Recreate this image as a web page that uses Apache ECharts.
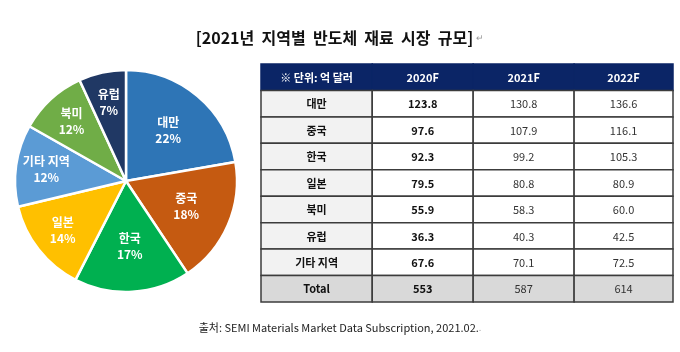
<!DOCTYPE html>
<html><head><meta charset="utf-8">
<script src="https://cdn.jsdelivr.net/npm/echarts@6/dist/echarts.min.js"></script>
<style>html,body{margin:0;padding:0;background:#fff}#c{width:680px;height:352px}</style>
</head><body><div id="c"></div>
<script>
// ---- data ----
const headers = ['※ 단위: 억 달러', '2020F', '2021F', '2022F'];
const regions = ['대만', '중국', '한국', '일본', '북미', '유럽', '기타 지역'];
const v2020 = [123.8, 97.6, 92.3, 79.5, 55.9, 36.3, 67.6];
const v2021 = [130.8, 107.9, 99.2, 80.8, 58.3, 40.3, 70.1];
const v2022 = [136.6, 116.1, 105.3, 80.9, 60.0, 42.5, 72.5];
const totalLabel = 'Total';
const totals = [553, 587, 614];
const pieNames = ['대만', '중국', '한국', '일본', '기타 지역', '북미', '유럽'];
const pieValues = [130.8, 107.9, 99.2, 80.8, 70.1, 58.3, 40.3];
const piePct = [22, 18, 17, 14, 12, 12, 7];
const pieColors = ['#2e75b6', '#c55a11', '#00b050', '#ffc000', '#5b9bd5', '#70ad47', '#203864'];

// ---- layout constants ----
const colEdges = [0, 1.08, 2.06, 3.04, 4];
const KR = '"Noto Sans CJK KR", "Noto Sans", sans-serif';
const PIE_CENTER = [126, 181];
const PIE_R = 111;
const largeLabelSlices = 3; // first slices get labels nearer the centre

// build table cells
const cells = [];
headers.forEach((h, c) => cells.push({c, r: 0, t: h}));
regions.forEach((name, i) => {
  cells.push({c: 0, r: i + 1, t: name});
  cells.push({c: 1, r: i + 1, t: v2020[i].toFixed(1)});
  cells.push({c: 2, r: i + 1, t: v2021[i].toFixed(1)});
  cells.push({c: 3, r: i + 1, t: v2022[i].toFixed(1)});
});
const lastRow = regions.length + 1;
cells.push({c: 0, r: lastRow, t: totalLabel});
totals.forEach((v, k) => cells.push({c: k + 1, r: lastRow, t: String(v)}));

const labelStyle = {
  position: 'inside', color: '#fff', fontFamily: KR,
  fontSize: 12, fontWeight: 'bold', lineHeight: 16,
  formatter: p => p.name + '\n' + piePct[p.dataIndex] + '%'
};
function labelPie(radius, showFn) {
  return {
    type: 'pie', center: PIE_CENTER, radius, startAngle: 90, clockwise: true,
    silent: true, avoidLabelOverlap: false, z: 5,
    itemStyle: {color: 'rgba(0,0,0,0)', borderWidth: 0},
    labelLine: {show: false},
    data: pieNames.map((n, i) => ({name: n, value: pieValues[i],
      label: Object.assign({}, labelStyle, {show: showFn(i)})}))
  };
}

const chart = echarts.init(document.getElementById('c'), null, {renderer: 'canvas'});
chart.setOption({
  animation: false,
  backgroundColor: '#fff',
  title: [{
    text: '[2021년  지역별  반도체  재료  시장  규모]{m|↵}',
    left: 'center', top: 30, padding: 0,
    textStyle: {fontFamily: KR, fontSize: 16, fontWeight: 'bold', color: '#111',
      rich: {m: {fontSize: 9, color: '#999', fontWeight: 'normal', padding: [0, 0, 0, 3]}}}
  }, {
    text: '출처: SEMI Materials Market Data Subscription, 2021.02.{m|.}',
    left: 'center', top: 322, padding: 0,
    textStyle: {fontFamily: KR, fontSize: 11, fontWeight: 'normal', color: '#222',
      rich: {m: {fontSize: 9, color: '#aaa'}}}
  }],
  grid: {left: 261, top: 64, width: 412, height: 238},
  xAxis: {type: 'value', min: 0, max: 4, show: false},
  yAxis: {type: 'value', min: 0, max: lastRow + 1, inverse: true, show: false},
  series: [{
    type: 'pie',
    center: PIE_CENTER,
    radius: PIE_R,
    startAngle: 90,
    clockwise: true,
    itemStyle: {borderColor: '#fff', borderWidth: 2.5},
    label: {show: false},
    labelLine: {show: false},
    data: pieNames.map((n, i) => ({name: n, value: pieValues[i], itemStyle: {color: pieColors[i]}}))
  },
  labelPie([14, PIE_R], i => i < largeLabelSlices),
  labelPie([44, PIE_R], i => i >= largeLabelSlices),
  {
    type: 'custom',
    coordinateSystem: 'cartesian2d',
    clip: false,
    data: cells.map((d, i) => [d.c, d.r, i]),
    renderItem: (params, api) => {
      const c = api.value(0), r = api.value(1), i = api.value(2);
      const p0 = api.coord([colEdges[c], r]);
      const p1 = api.coord([colEdges[c + 1], r + 1]);
      const w = p1[0] - p0[0], h = p1[1] - p0[1];
      const header = r === 0, total = r === lastRow;
      const fill = header ? '#0b2566' : total ? '#d9d9d9' : c === 0 ? '#f2f2f2' : '#ffffff';
      const bold = header || c <= 1 || (total && c === 0);
      const color = header ? '#ffffff' : (c >= 2 ? '#333' : '#111');
      return {
        type: 'group',
        children: [{
          type: 'rect',
          shape: {x: p0[0], y: p0[1], width: w, height: h},
          style: {fill, stroke: header ? '#0b2566' : '#3c3c3c', lineWidth: 1.5}
        }, {
          type: 'text',
          style: {
            x: p0[0] + w / 2, y: p0[1] + h / 2 + 0.5, text: cells[i].t,
            align: 'center', verticalAlign: 'middle', fill: color,
            font: (bold ? 'bold ' : '') + '11px ' + KR
          }
        }]
      };
    }
  }]
});
</script></body></html>
